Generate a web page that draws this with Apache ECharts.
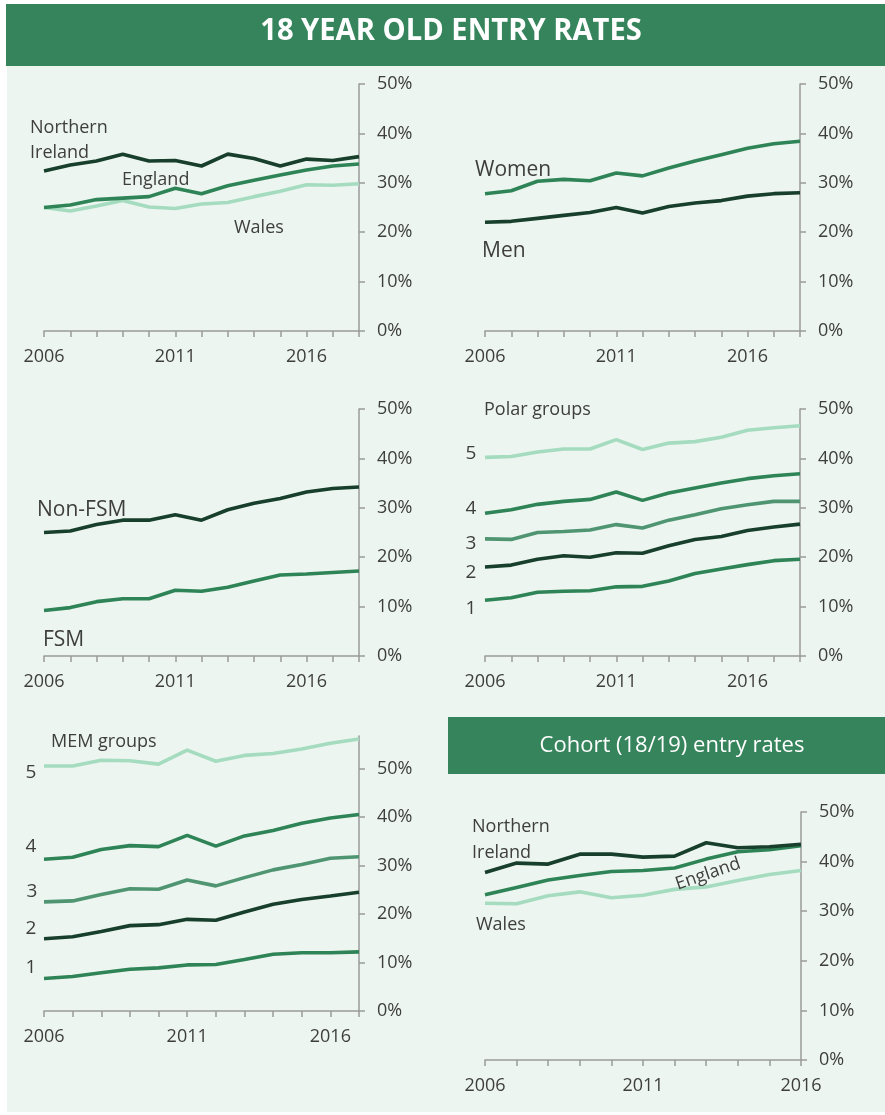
<!DOCTYPE html>
<html><head><meta charset="utf-8">
<script src="https://cdn.jsdelivr.net/npm/echarts@6/dist/echarts.min.js"></script>
<style>html,body{margin:0;padding:0;background:#ffffff}#c{width:885px;height:1115px}</style>
</head><body><div id="c"></div>
<script>
// ---------- categories ----------
const years2018 = ['2006','2007','2008','2009','2010','2011','2012','2013','2014','2015','2016','2017','2018'];
const years2017 = ['2006','2007','2008','2009','2010','2011','2012','2013','2014','2015','2016','2017'];
const years2016 = ['2006','2007','2008','2009','2010','2011','2012','2013','2014','2015','2016'];
const yTickValues = [0, 10, 20, 30, 40, 50];

// ---------- panel 1: nations (18 year olds) ----------
const nationNI      = [32.4, 33.6, 34.4, 35.8, 34.4, 34.5, 33.4, 35.8, 34.9, 33.4, 34.8, 34.5, 35.3];
const nationEngland = [25.0, 25.5, 26.6, 26.9, 27.2, 28.9, 27.8, 29.4, 30.5, 31.6, 32.6, 33.4, 33.8];
const nationWales   = [25.0, 24.3, 25.3, 26.4, 25.1, 24.8, 25.7, 26.0, 27.2, 28.3, 29.6, 29.5, 29.8];

// ---------- panel 2: sex ----------
const sexWomen = [27.8, 28.4, 30.3, 30.7, 30.4, 32.0, 31.4, 33.0, 34.4, 35.7, 37.0, 37.9, 38.4];
const sexMen   = [22.0, 22.2, 22.8, 23.4, 24.0, 25.0, 23.9, 25.2, 25.9, 26.4, 27.3, 27.8, 28.0];

// ---------- panel 3: FSM ----------
const nonFsm = [25.0, 25.3, 26.6, 27.5, 27.5, 28.6, 27.5, 29.6, 30.9, 31.9, 33.2, 33.9, 34.2];
const fsm    = [9.2, 9.8, 11.0, 11.6, 11.6, 13.3, 13.1, 13.9, 15.2, 16.4, 16.6, 16.9, 17.2];

// ---------- panel 4: POLAR groups ----------
const polar5 = [40.2, 40.4, 41.3, 41.9, 41.9, 43.8, 41.8, 43.1, 43.4, 44.3, 45.7, 46.2, 46.6];
const polar4 = [28.9, 29.6, 30.7, 31.3, 31.7, 33.2, 31.5, 33.0, 34.0, 35.0, 35.9, 36.5, 36.9];
const polar3 = [23.7, 23.6, 25.0, 25.2, 25.5, 26.6, 25.9, 27.5, 28.6, 29.8, 30.6, 31.3, 31.3];
const polar2 = [18.0, 18.4, 19.6, 20.3, 20.0, 20.9, 20.8, 22.3, 23.6, 24.2, 25.4, 26.1, 26.7];
const polar1 = [11.3, 11.8, 12.9, 13.1, 13.2, 14.0, 14.1, 15.2, 16.7, 17.6, 18.5, 19.3, 19.6];

// ---------- panel 5: MEM groups ----------
const mem5 = [50.5, 50.5, 51.7, 51.6, 50.9, 53.8, 51.5, 52.7, 53.1, 54.0, 55.2, 56.1];
const mem4 = [31.3, 31.7, 33.3, 34.1, 33.9, 36.2, 34.0, 36.1, 37.2, 38.7, 39.8, 40.5];
const mem3 = [22.5, 22.7, 24.0, 25.2, 25.1, 27.0, 25.8, 27.5, 29.1, 30.2, 31.5, 31.8];
const mem2 = [14.9, 15.3, 16.4, 17.6, 17.8, 18.9, 18.7, 20.4, 22.0, 23.0, 23.7, 24.5];
const mem1 = [6.7, 7.1, 7.9, 8.6, 8.9, 9.5, 9.6, 10.6, 11.7, 12.0, 12.0, 12.2];

// ---------- panel 6: cohort (18/19) entry rates ----------
const cohortNI      = [37.8, 39.7, 39.5, 41.5, 41.5, 40.9, 41.1, 43.8, 42.8, 43.0, 43.5];
const cohortEngland = [33.3, 34.8, 36.3, 37.2, 38.0, 38.2, 38.7, 40.5, 42.0, 42.4, 43.2];
const cohortWales   = [31.6, 31.5, 33.1, 33.9, 32.7, 33.2, 34.4, 34.9, 36.2, 37.4, 38.2];

// ---------- styling ----------
const FONT = '"Open Sans", "Noto Sans", sans-serif';
const DARK = '#173f2b', MID = '#2e8456', G3 = '#4f9572', LIGHT = '#a5dcc0';
const TXT = '#3e3e3e', AX = '#9a9a9a';
const BG = '#ecf5ef', HEAD = '#36845c';

const grids = [
  {left: 44,  top: 84,  width: 315, height: 247},
  {left: 485, top: 84,  width: 315, height: 247},
  {left: 44,  top: 409, width: 315, height: 247},
  {left: 485, top: 409, width: 315, height: 247},
  {left: 44,  top: 736, width: 315, height: 275},
  {left: 485, top: 812, width: 316, height: 248}
];
const xCats = [years2018, years2018, years2018, years2018, years2017, years2016];
const yMax  = [50, 50, 50, 50, 56.7, 50];

const xAxes = xCats.map((cats, i) => ({
  gridIndex: i, type: 'category', data: cats, boundaryGap: false,
  axisLine: {show: true, lineStyle: {color: AX, width: 1.5}},
  axisTick: {show: true, interval: 0, length: 6, lineStyle: {color: AX, width: 1.5}},
  axisLabel: {interval: 4, color: TXT, fontSize: 18, fontFamily: FONT, margin: 17},
  splitLine: {show: false}
}));
const yAxes = yMax.map((mx, i) => ({
  gridIndex: i, type: 'value', position: 'right', min: 0, max: mx, interval: 10,
  axisLine: {show: true, lineStyle: {color: AX, width: 1.5}},
  axisTick: {show: true, length: 6, lineStyle: {color: AX, width: 1.5}, customValues: yTickValues},
  axisLabel: {color: TXT, fontSize: 18, fontFamily: FONT, margin: 18, formatter: '{value}%',
              customValues: yTickValues},
  splitLine: {show: false}
}));

function line(idx, data, color) {
  return {type: 'line', xAxisIndex: idx, yAxisIndex: idx, data: data, showSymbol: false,
          symbol: 'none', silent: true, lineStyle: {color: color, width: 3.6}, z: 3};
}
const series = [
  line(0, nationWales, LIGHT), line(0, nationEngland, MID), line(0, nationNI, DARK),
  line(1, sexWomen, MID), line(1, sexMen, DARK),
  line(2, nonFsm, DARK), line(2, fsm, MID),
  line(3, polar5, LIGHT), line(3, polar4, MID), line(3, polar3, G3), line(3, polar2, DARK), line(3, polar1, MID),
  line(4, mem5, LIGHT), line(4, mem4, MID), line(4, mem3, G3), line(4, mem2, DARK), line(4, mem1, MID),
  line(5, cohortWales, LIGHT), line(5, cohortEngland, MID), line(5, cohortNI, DARK)
];

function txt(s, x, y, size, opts) {
  opts = opts || {};
  return {type: 'text', x: x, y: y, rotation: opts.rot || 0, scaleX: opts.sx || 1, z: 10,
          style: {text: s, x: 0, y: 0, fill: opts.fill || TXT,
                  font: (opts.weight || 'normal') + ' ' + size + 'px ' + FONT,
                  align: opts.align || 'left', verticalAlign: 'middle',
                  lineHeight: opts.lh || size * 1.4}};
}

const graphics = [
  {type: 'rect', z: -10, shape: {x: 7, y: 4, width: 878, height: 1108}, style: {fill: BG}},
  {type: 'rect', z: -5, shape: {x: 6, y: 4, width: 879, height: 62}, style: {fill: HEAD}},
  txt('18 YEAR OLD ENTRY RATES', 451, 31, 31, {fill: '#ffffff', weight: 'bold', align: 'center', sx: 0.94}),
  {type: 'rect', z: -5, shape: {x: 448, y: 717, width: 437, height: 57}, style: {fill: HEAD}},
  txt('Cohort (18/19) entry rates', 672, 746, 22, {fill: '#ffffff', align: 'center'}),
  // panel 1
  txt('Northern\nIreland', 30, 140, 18, {lh: 25}),
  txt('England', 122, 180, 18),
  txt('Wales', 234, 228, 18),
  // panel 2
  txt('Women', 475, 170, 21),
  txt('Men', 482, 251, 21),
  // panel 3
  txt('Non-FSM', 37, 510, 21),
  txt('FSM', 43, 640, 21),
  // panel 4
  txt('Polar groups', 484, 410, 18),
  txt('5', 471, 454, 19, {align: 'center'}),
  txt('4', 471, 509, 19, {align: 'center'}),
  txt('3', 471, 544, 19, {align: 'center'}),
  txt('2', 471, 573, 19, {align: 'center'}),
  txt('1', 471, 609, 19, {align: 'center'}),
  // panel 5
  txt('MEM groups', 51, 742, 18),
  txt('5', 31, 773, 19, {align: 'center'}),
  txt('4', 31, 847, 19, {align: 'center'}),
  txt('3', 32, 892, 19, {align: 'center'}),
  txt('2', 31, 929, 19, {align: 'center'}),
  txt('1', 31, 968, 19, {align: 'center'}),
  // panel 6
  txt('Northern\nIreland', 472, 840, 18, {lh: 26}),
  txt('England', 708, 874, 18, {align: 'center', rot: 0.33}),
  txt('Wales', 476, 925, 18)
];

const chart = echarts.init(document.getElementById('c'), null, {renderer: 'canvas'});
chart.setOption({
  animation: false,
  backgroundColor: '#ffffff',
  grid: grids,
  xAxis: xAxes,
  yAxis: yAxes,
  series: series,
  graphic: {elements: graphics}
});
</script>
</body></html>
